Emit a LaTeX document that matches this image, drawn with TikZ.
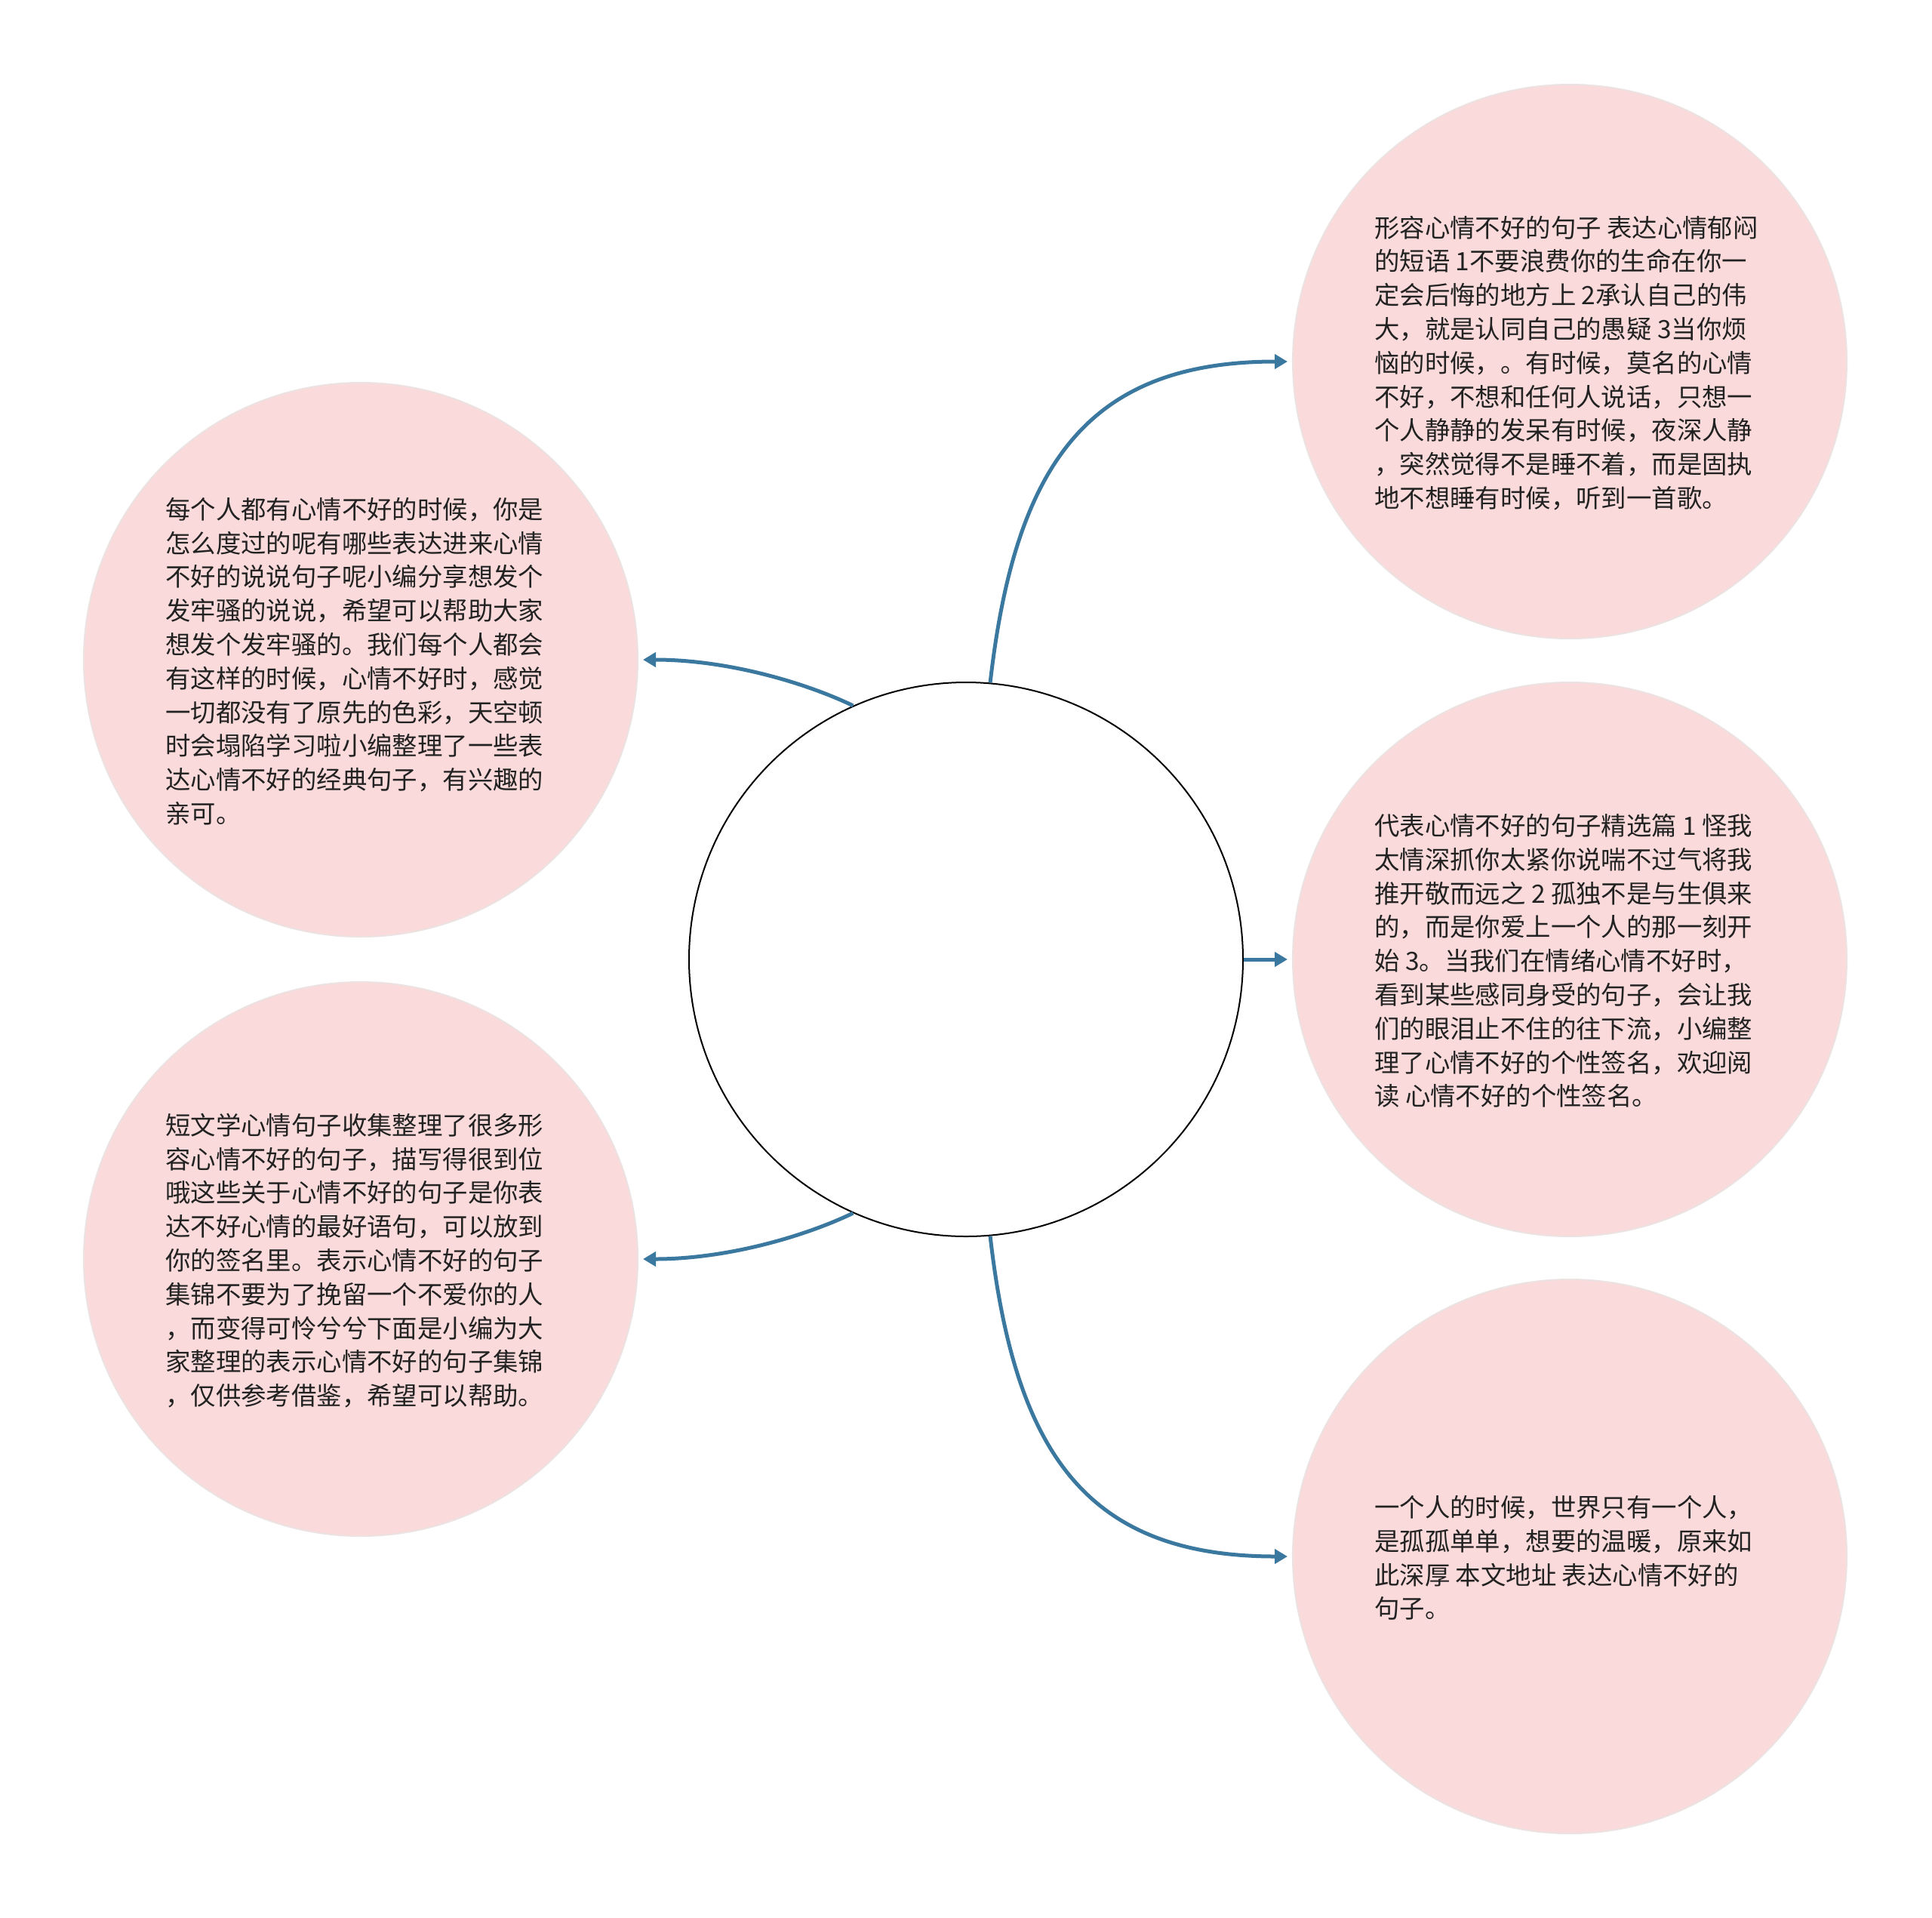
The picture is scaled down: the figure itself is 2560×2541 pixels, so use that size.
\documentclass[tikz,border=0pt]{standalone}
\usepackage{fontspec}
\newfontfamily\cjk{Noto Sans CJK SC}
\usetikzlibrary{arrows.meta}
\definecolor{pinkfill}{HTML}{FADADA}
\definecolor{pinkedge}{HTML}{ECE2E2}
\definecolor{linkblue}{HTML}{3B78A0}
\definecolor{txtcol}{HTML}{222222}
\tikzset{
  bubble/.style={circle, fill=pinkfill, draw=pinkedge, line width=2pt, minimum size=734pt, inner sep=0pt},
  hub/.style={circle, fill=white, draw=black, line width=2pt, minimum size=734pt, inner sep=0pt},
  txt/.style={anchor=west, align=left, inner sep=0pt, text=txtcol, font=\cjk\fontsize{33.4pt}{44.8pt}\selectfont},
  link/.style={draw=linkblue, line width=5pt, -{Triangle[length=17pt,width=19pt]}, shorten >=6pt}
}
\begin{document}
\begin{tikzpicture}[x=1pt,y=-1pt]
\useasboundingbox (0,0) rectangle (2560,2541);
\fill[white] (0,0) rectangle (2560,2541);

\node[hub] (c) at (1280,1271) {};
\node[bubble] (tr) at (2080,479) {};
\node[bubble] (rm) at (2080,1271) {};
\node[bubble] (br) at (2080,2062) {};
\node[bubble] (lt) at (478,874) {};
\node[bubble] (lb) at (478,1668) {};

\node[txt] (ttr) at ([xshift=-259pt,yshift=-2pt]tr.center) {形容心情不好的句子 表达心情郁闷\\的短语 1不要浪费你的生命在你一\\定会后悔的地方上 2承认自己的伟\\大，就是认同自己的愚疑 3当你烦\\恼的时候，。有时候，莫名的心情\\不好，不想和任何人说话，只想一\\个人静静的发呆有时候，夜深人静\\，突然觉得不是睡不着，而是固执\\地不想睡有时候，听到一首歌。};

\node[txt] (trm) at ([xshift=-259pt,yshift=-2pt]rm.center) {代表心情不好的句子精选篇 1 怪我\\太情深抓你太紧你说喘不过气将我\\推开敬而远之 2 孤独不是与生俱来\\的，而是你爱上一个人的那一刻开\\始 3。当我们在情绪心情不好时，\\看到某些感同身受的句子，会让我\\们的眼泪止不住的往下流，小编整\\理了心情不好的个性签名，欢迎阅\\读 心情不好的个性签名。};

\node[txt] (tbr) at ([xshift=-259pt,yshift=-2pt]br.center) {一个人的时候，世界只有一个人，\\是孤孤单单，想要的温暖，原来如\\此深厚 本文地址 表达心情不好的\\句子。};

\node[txt] (tlt) at ([xshift=-259pt,yshift=-2pt]lt.center) {每个人都有心情不好的时候，你是\\怎么度过的呢有哪些表达进来心情\\不好的说说句子呢小编分享想发个\\发牢骚的说说，希望可以帮助大家\\想发个发牢骚的。我们每个人都会\\有这样的时候，心情不好时，感觉\\一切都没有了原先的色彩，天空顿\\时会塌陷学习啦小编整理了一些表\\达心情不好的经典句子，有兴趣的\\亲可。};

\node[txt] (tlb) at ([xshift=-259pt,yshift=-2pt]lb.center) {短文学心情句子收集整理了很多形\\容心情不好的句子，描写得很到位\\哦这些关于心情不好的句子是你表\\达不好心情的最好语句，可以放到\\你的签名里。表示心情不好的句子\\集锦不要为了挽留一个不爱你的人\\，而变得可怜兮兮下面是小编为大\\家整理的表示心情不好的句子集锦\\，仅供参考借鉴，希望可以帮助。};

\draw[link] (c.85.5) .. controls +(33,-290) and +(-270,0) .. (tr.west);
\draw[link] (c.east) -- (rm.west);
\draw[link] (c.-85.5) .. controls +(33,290) and +(-270,0) .. (br.west);
\draw[link] (c.114.4) .. controls +(-67,-32) and +(115,0) .. (lt.east);
\draw[link] (c.-114.4) .. controls +(-67,32) and +(115,0) .. (lb.east);
\end{tikzpicture}
\end{document}
